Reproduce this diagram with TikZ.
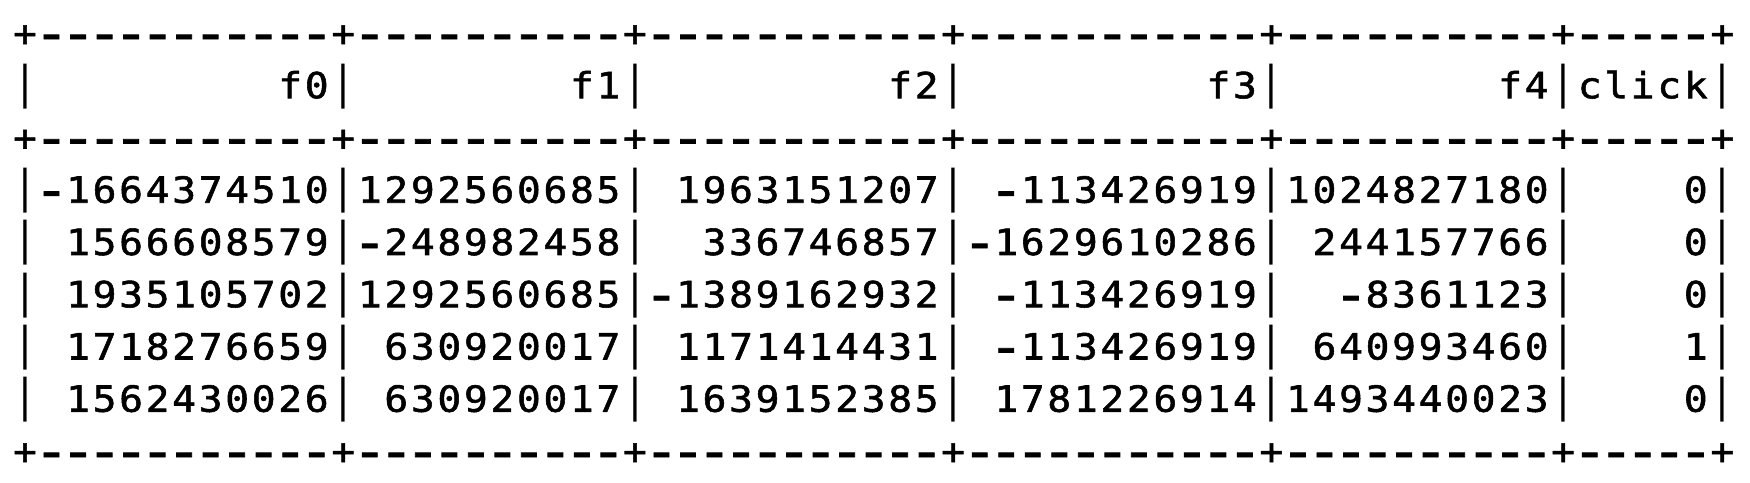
\documentclass[tikz,border=0pt]{standalone}
\usepackage{fontspec}
\newfontfamily\tabmono[FakeStretch=1.1,FakeBold=1.5]{DejaVu Sans Mono}
\newfontfamily\tabmonolight[FakeStretch=1.1]{DejaVu Sans Mono}
\tikzset{
  ch/.style={inner sep=0pt, outer sep=0pt, anchor=base, text=black,
    font=\tabmono\fontsize{36pt}{36pt}\selectfont},
}
% place one character of the table: row, column, glyph
\newcommand\tabch[3]{%
  \node[ch] (ch-#1-#2) at ({25pt+#2*26.52pt},{436pt-#1*52.25pt}) {#3};}
\newcommand\tabbar{{\tabmonolight\scalebox{1}[1.25]{|}}}
\newcommand\tabdash{\scalebox{1.5}[1.45]{\raisebox{-3.6pt}{-}}}
\ExplSyntaxOn
\int_new:N \l_tab_col_int
\NewDocumentCommand \tabline { m m }
  {
    \int_zero:N \l_tab_col_int
    \str_map_inline:nn {#2}
      {
        \str_case:nnF {##1}
          {
            {.} { }
            {|} { \exp_args:NnV \tabch {#1} \l_tab_col_int {\tabbar} }
            {-} { \exp_args:NnV \tabch {#1} \l_tab_col_int {\tabdash} }
          }
          { \exp_args:NnV \tabch {#1} \l_tab_col_int {##1} }
        \int_incr:N \l_tab_col_int
      }
  }
\ExplSyntaxOff
\begin{document}
\begin{tikzpicture}
  \useasboundingbox (0,0) rectangle (1750pt,482pt);
  \fill[white] (0,0) rectangle (1750pt,482pt);
  \tabline{0}{+-----------+----------+-----------+-----------+----------+-----+}
  \tabline{1}{|.........f0|........f1|.........f2|.........f3|........f4|click|}
  \tabline{2}{+-----------+----------+-----------+-----------+----------+-----+}
  \tabline{3}{|-1664374510|1292560685|.1963151207|.-113426919|1024827180|....0|}
  \tabline{4}{|.1566608579|-248982458|..336746857|-1629610286|.244157766|....0|}
  \tabline{5}{|.1935105702|1292560685|-1389162932|.-113426919|..-8361123|....0|}
  \tabline{6}{|.1718276659|.630920017|.1171414431|.-113426919|.640993460|....1|}
  \tabline{7}{|.1562430026|.630920017|.1639152385|.1781226914|1493440023|....0|}
  \tabline{8}{+-----------+----------+-----------+-----------+----------+-----+}
\end{tikzpicture}
\end{document}
